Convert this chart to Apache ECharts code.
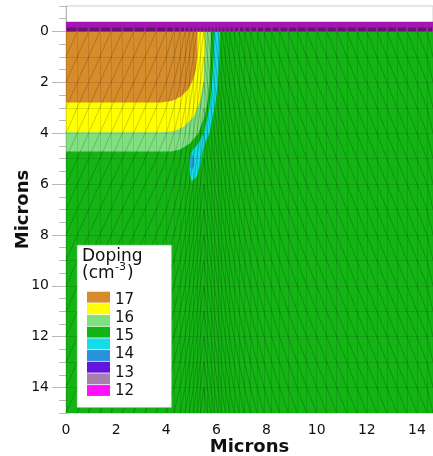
<!DOCTYPE html>
<html><head><meta charset="utf-8">
<script src="https://cdn.jsdelivr.net/npm/echarts@6/dist/echarts.min.js"></script>
<style>html,body{margin:0;padding:0;background:#fff}#c{width:433px;height:456px}</style>
</head><body><div id="c"></div>
<script>
// ---- axis ranges & tick labels ----
const xRange = [0, 14.64];
const yRange = [-1, 15];
const xTickLabels = [0, 2, 4, 6, 8, 10, 12, 14];
const yTickLabels = [0, 2, 4, 6, 8, 10, 12, 14];
const xMinorTicks = [0.5,1,1.5,2.5,3,3.5,4.5,5,5.5,6.5,7,7.5,8.5,9,9.5,10.5,11,11.5,12.5,13,13.5,14.5];
const yMinorTicks = [-1,-0.5,0.5,1,1.5,2.5,3,3.5,4.5,5,5.5,6.5,7,7.5,8.5,9,9.5,10.5,11,11.5,12.5,13,13.5,14.5,15];

// ---- doping regions (microns) ----
const oxideRegion = [[0,-0.38],[14.64,-0.38],[14.64,0],[0,0]];
const substrate15 = [[0,0],[14.64,0],[14.64,15],[0,15]];
const band14 = [[5.92,0],[5.89,1.0],[5.83,2.0],[5.76,2.7],[5.66,3.3],[5.5,4.0],[5.28,4.4],[5.05,4.66],[4.93,5.0],[4.92,5.32],[4.96,5.71],[5.01,5.91],
                [5.1,5.8],[5.21,5.71],[5.3,5.45],[5.36,5.2],[5.45,4.7],[5.56,4.35],[5.72,4.0],[5.84,3.4],[5.98,2.7],[6.06,2.0],[6.11,1.0],[6.14,0]];
const spot14 = [[5.0,4.82],[5.12,4.98],[5.13,5.28],[5.02,5.45],[4.93,5.28],[4.94,4.98]];
const region16low = [[0,0],[5.78,0],[5.76,1.0],[5.72,2.0],[5.66,2.7],[5.52,3.35],[5.28,4.0],[4.95,4.4],[4.55,4.64],[4.2,4.72],[0,4.72]];
const region16 = [[0,0],[5.54,0],[5.53,1.0],[5.48,2.0],[5.36,2.7],[5.1,3.35],[4.7,3.75],[4.3,3.92],[3.8,3.96],[0,3.96]];
const region17 = [[0,0],[5.24,0],[5.22,1.0],[5.18,1.5],[5.05,1.95],[4.85,2.3],[4.6,2.55],[4.25,2.72],[3.8,2.79],[0,2.79]];

// ---- mesh ----
const meshX = [0,0.45,0.9,1.35,1.8,2.25,2.7,3.15,3.6,4.0,4.3,4.55,4.75,4.92,5.08,5.22,5.36,5.5,5.64,5.78,5.92,6.06,6.2,6.36,6.52,6.7,6.9,7.12,7.36,7.62,7.9,8.2,8.52,8.86,9.22,9.6,10.0,10.4,10.8,11.2,11.6,12.0,12.4,12.8,13.2,13.6,14.0,14.4,14.64];
const meshY = [0,1,2,3,4,5,6,7,8,9,10,11,12,13,14,15];
const oxideMeshRow = [-0.15, 0];
const meshFlipX = 5.5;

// ---- legend ----
const legendTitle = 'Doping';
const legendUnitBase = '(cm';
const legendUnitExp = '-3';
const legendLevels = ['17','16','15','14','13','12'];
const legendColors = ['#d68c2a','#ffff00','#80e080','#14b414','#14dce8','#2a92d8','#6414e0','#a880b0','#ff10ff'];

const C = {c17:'#d68c2a', c16:'#ffff00', c16b:'#80e080', c15:'#14b414', c14:'#14dce8', c14b:'#22a6dc', ox:'#a416b2', oxDark:'#5a1262'};

const regions = [
  {pts: substrate15, color: C.c15},
  {pts: band14, color: C.c14},
  {pts: spot14, color: C.c14b},
  {pts: region16low, color: C.c16b},
  {pts: region16, color: C.c16},
  {pts: region17, color: C.c17},
  {pts: oxideRegion, color: C.ox}
];

const meshLines = [];
const meshDiag = [];
for (const y of meshY) meshLines.push({coords: [[meshX[0], y], [meshX[meshX.length-1], y]]});
for (const x of meshX) meshLines.push({coords: [[x, meshY[0]], [x, meshY[meshY.length-1]]]});
for (let i = 0; i < meshX.length - 1; i++) {
  for (let j = 0; j < meshY.length - 1; j++) {
    const x0 = meshX[i], x1 = meshX[i+1], y0 = meshY[j], y1 = meshY[j+1];
    if (x1 <= meshFlipX) meshDiag.push({coords: [[x0, y1], [x1, y0]]});
    else meshDiag.push({coords: [[x0, y0], [x1, y1]]});
  }
}

const font = 'DejaVu Sans';
const chart = echarts.init(document.getElementById('c'), null, {renderer: 'canvas'});

const graphics = [
  {type:'rect', z:100, left:77, top:245, shape:{width:94, height:162}, style:{fill:'#fff', stroke:'#e6e6e6', lineWidth:0.5}},
  {type:'text', z:101, left:82, top:248, style:{text: legendTitle, fontSize:17, fontFamily:font, fill:'#111'}},
  {type:'text', z:101, left:82, top:265, style:{text: legendUnitBase, fontSize:17, fontFamily:font, fill:'#111'}},
  {type:'text', z:101, left:115, top:262, style:{text: legendUnitExp, fontSize:11, fontFamily:font, fill:'#111'}},
  {type:'text', z:101, left:127, top:265, style:{text: ')', fontSize:17, fontFamily:font, fill:'#111'}}
];
legendColors.forEach((col, i) => {
  graphics.push({type:'rect', z:101, left:87, top:291.7 + i*11.67, shape:{width:23, height:10.9}, style:{fill:col}});
});
legendLevels.forEach((lab, k) => {
  graphics.push({type:'text', z:101, left:115, top:292.5 + k*18.2, style:{text: lab, fontSize:15, fontFamily:font, fill:'#111'}});
});

const axisGray = '#b8b8b8';
chart.setOption({
  animation: false,
  grid: {left:66, top:6, right:0, bottom:43, outerBoundsMode:'none', containLabel:false,
         show:true, borderColor:'#cfcfcf', borderWidth:1, backgroundColor:'transparent'},
  xAxis: [
    {type:'value', min:xRange[0], max:xRange[1], position:'bottom',
     name:'Microns', nameLocation:'middle', nameGap:25, nameMoveOverlap:false,
     nameTextStyle:{fontFamily:font, fontSize:18, fontWeight:'bold', color:'#111'},
     axisLine:{show:true, lineStyle:{color:axisGray}},
     axisTick:{show:true, customValues:xTickLabels, length:9, lineStyle:{color:axisGray}},
     axisLabel:{show:true, customValues:xTickLabels, margin:10, fontFamily:font, fontSize:14, color:'#111'},
     splitLine:{show:false}},
    {type:'value', min:xRange[0], max:xRange[1], position:'bottom',
     axisLine:{show:false},
     axisTick:{show:true, customValues:xMinorTicks, length:4, lineStyle:{color:axisGray}},
     axisLabel:{show:false}, splitLine:{show:false}}
  ],
  yAxis: [
    {type:'value', min:yRange[0], max:yRange[1], inverse:true, position:'left',
     name:'Microns', nameLocation:'middle', nameGap:34, nameRotate:90, nameMoveOverlap:false,
     nameTextStyle:{fontFamily:font, fontSize:18, fontWeight:'bold', color:'#111'},
     axisLine:{show:true, lineStyle:{color:axisGray}},
     axisTick:{show:true, customValues:yTickLabels, length:14, lineStyle:{color:axisGray}},
     axisLabel:{show:true, customValues:yTickLabels, margin:17, fontFamily:font, fontSize:14, color:'#111'},
     splitLine:{show:false}},
    {type:'value', min:yRange[0], max:yRange[1], inverse:true, position:'left',
     axisLine:{show:false},
     axisTick:{show:true, customValues:yMinorTicks, length:7, lineStyle:{color:axisGray}},
     axisLabel:{show:false}, splitLine:{show:false}}
  ],
  series: [
    {type:'custom', xAxisIndex:0, yAxisIndex:0, silent:true, clip:true,
     data: regions.map((r, i) => [i]),
     renderItem: (params, api) => {
       const r = regions[params.dataIndex];
       return {type:'polygon', shape:{points: r.pts.map(p => api.coord(p))}, style:{fill: r.color}};
     }},
    {type:'custom', xAxisIndex:0, yAxisIndex:0, silent:true, clip:true,
     data: meshX.slice(0, -1).map((x, i) => [i]),
     renderItem: (params, api) => {
       const i = params.dataIndex;
       const a = api.coord([meshX[i], oxideMeshRow[0]]);
       const b = api.coord([meshX[i+1], oxideMeshRow[1]]);
       return {type:'rect', shape:{x:a[0]+1, y:a[1], width:Math.max(0.5, b[0]-a[0]-2), height:b[1]-a[1]}, style:{fill:C.oxDark, opacity:0.8}};
     }},
    {type:'lines', coordinateSystem:'cartesian2d', xAxisIndex:0, yAxisIndex:0, silent:true,
     data: meshLines, lineStyle:{color:'rgba(0,0,0,0.14)', width:0.8, opacity:1}},
    {type:'lines', coordinateSystem:'cartesian2d', xAxisIndex:0, yAxisIndex:0, silent:true,
     data: meshDiag, lineStyle:{color:'rgba(0,0,0,0.24)', width:0.8, opacity:1}}
  ],
  graphic: {elements: graphics}
});
</script></body></html>
